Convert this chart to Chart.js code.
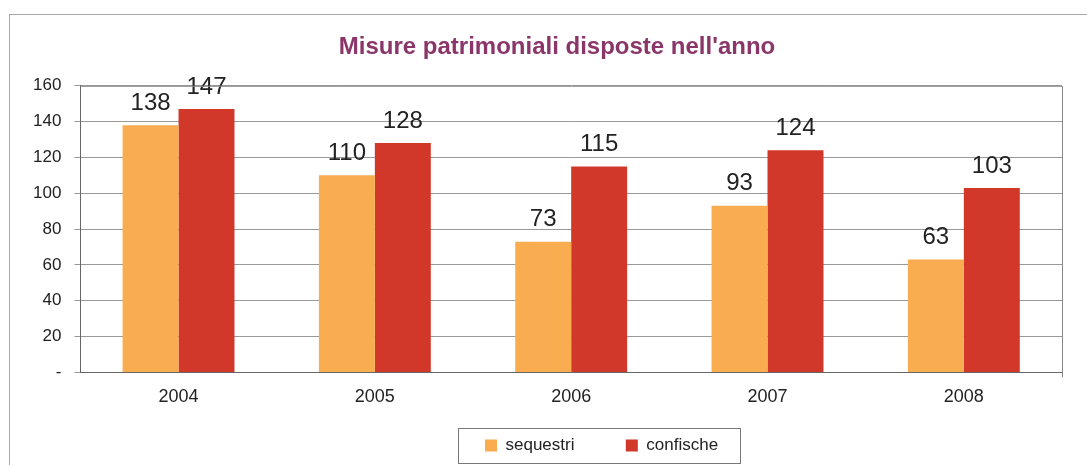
<!DOCTYPE html>
<html>
<head>
<meta charset="utf-8">
<script src="https://cdn.jsdelivr.net/npm/chart.js@4"></script>
<style>
  body { margin: 0; background: #fff; }
  #wrap { position: relative; width: 1087px; height: 465px; overflow: hidden; }
  #frame { position: absolute; left: 9px; top: 14px; width: 1100px; height: 470px; border: 1px solid #aaa; box-sizing: border-box; }
  canvas { position: absolute; left: 0; top: 0; }
</style>
</head>
<body>
<div id="wrap">
  <div id="frame"></div>
  <canvas id="misure" width="1087" height="465"></canvas>
</div>
<script>
var anni = ["2004", "2005", "2006", "2007", "2008"];
var sequestri = [138, 110, 73, 93, 63];
var confische = [147, 128, 115, 124, 103];
var yTicks = [0, 20, 40, 60, 80, 100, 120, 140, 160];

var orange = 'rgb(249,172,80)';
var red = 'rgb(209,56,42)';
var font = 'Arial, "Liberation Sans", sans-serif';

// valori sopra le barre
var labelsPlugin = {
  id: 'barLabels',
  afterDatasetsDraw: function(chart) {
    var ctx = chart.ctx;
    ctx.save();
    ctx.font = '24px ' + font;
    ctx.fillStyle = '#222';
    ctx.textAlign = 'center';
    ctx.textBaseline = 'bottom';
    chart.data.datasets.forEach(function(ds, i) {
      chart.getDatasetMeta(i).data.forEach(function(bar, j) {
        ctx.fillText(ds.data[j], bar.x, bar.y - 10);
      });
    });
    ctx.restore();
  }
};

// titolo e legenda un po' spostati a destra, come nell'originale
var shiftPlugin = {
  id: 'shift',
  afterUpdate: function(chart) {
    var t = chart.titleBlock;
    t.left += 16; t.right += 16;
    var lg = chart.legend;
    var hb = lg.legendHitBoxes;
    if (hb && hb.length) {
      var dx = 485 - hb[0].left;
      lg.left += dx; lg.right += dx;
      hb.forEach(function(h) { h.left += dx; });
    }
  }
};

// bordo area grafico e riquadro legenda
var boxPlugin = {
  id: 'boxes',
  afterDraw: function(chart) {
    var ctx = chart.ctx;
    var a = chart.chartArea;
    ctx.save();
    ctx.strokeStyle = '#888';
    ctx.lineWidth = 1;
    ctx.beginPath();
    ctx.moveTo(Math.round(a.left) + 0.5, a.top + 0.5);
    ctx.lineTo(Math.round(a.right) + 0.5, a.top + 0.5);
    ctx.lineTo(Math.round(a.right) + 0.5, a.bottom + 5);
    ctx.stroke();
    var hb = chart.legend.legendHitBoxes;
    if (hb && hb.length) {
      var last = hb[hb.length - 1];
      var x0 = hb[0].left - 27, x1 = last.left + last.width + 22;
      var y0 = hb[0].top - 9, y1 = hb[0].top + hb[0].height + 9;
      ctx.strokeStyle = '#777';
      ctx.strokeRect(Math.round(x0) + 0.5, Math.round(y0) + 0.5, Math.round(x1 - x0), Math.round(y1 - y0));
    }
    ctx.restore();
  }
};

new Chart("misure", {
  type: "bar",
  data: {
    labels: anni,
    datasets: [{
      label: "sequestri",
      data: sequestri,
      backgroundColor: orange
    }, {
      label: "confische",
      data: confische,
      backgroundColor: red
    }]
  },
  options: {
    responsive: false,
    animation: false,
    categoryPercentage: 0.57,
    barPercentage: 1.0,
    layout: { padding: { left: 20, right: 25, top: 33, bottom: 1 } },
    plugins: {
      legend: {
        position: 'bottom',
        labels: {
          boxWidth: 12,
          boxHeight: 12,
          padding: 23,
          color: '#222',
          font: { family: font, size: 17 },
          generateLabels: function(chart) {
            var items = Chart.defaults.plugins.legend.labels.generateLabels(chart);
            // spazio in più tra le due voci
            items[0].text += '\u00a0\u00a0\u00a0\u00a0\u00a0\u00a0';
            return items;
          }
        }
      },
      title: {
        display: true,
        text: "Misure patrimoniali disposte nell'anno",
        color: '#8a3669',
        font: { family: font, size: 24, weight: 'bold' },
        padding: { top: 0, bottom: 24 }
      },
      tooltip: { enabled: false }
    },
    scales: {
      x: {
        grid: { display: false },
        border: { color: '#666', width: 1 },
        ticks: {
          color: '#222',
          padding: 6,
          font: { family: font, size: 18 }
        }
      },
      y: {
        min: 0,
        max: 160,
        afterBuildTicks: function(axis) {
          axis.ticks = yTicks.map(function(v) { return { value: v }; });
        },
        grid: { color: '#999', tickLength: 6 },
        border: { color: '#666', width: 1 },
        ticks: {
          color: '#222',
          padding: 13,
          font: { family: font, size: 17 },
          callback: function(v) { return v === 0 ? '-' : v; }
        }
      }
    }
  },
  plugins: [labelsPlugin, shiftPlugin, boxPlugin]
});
</script>
</body>
</html>
